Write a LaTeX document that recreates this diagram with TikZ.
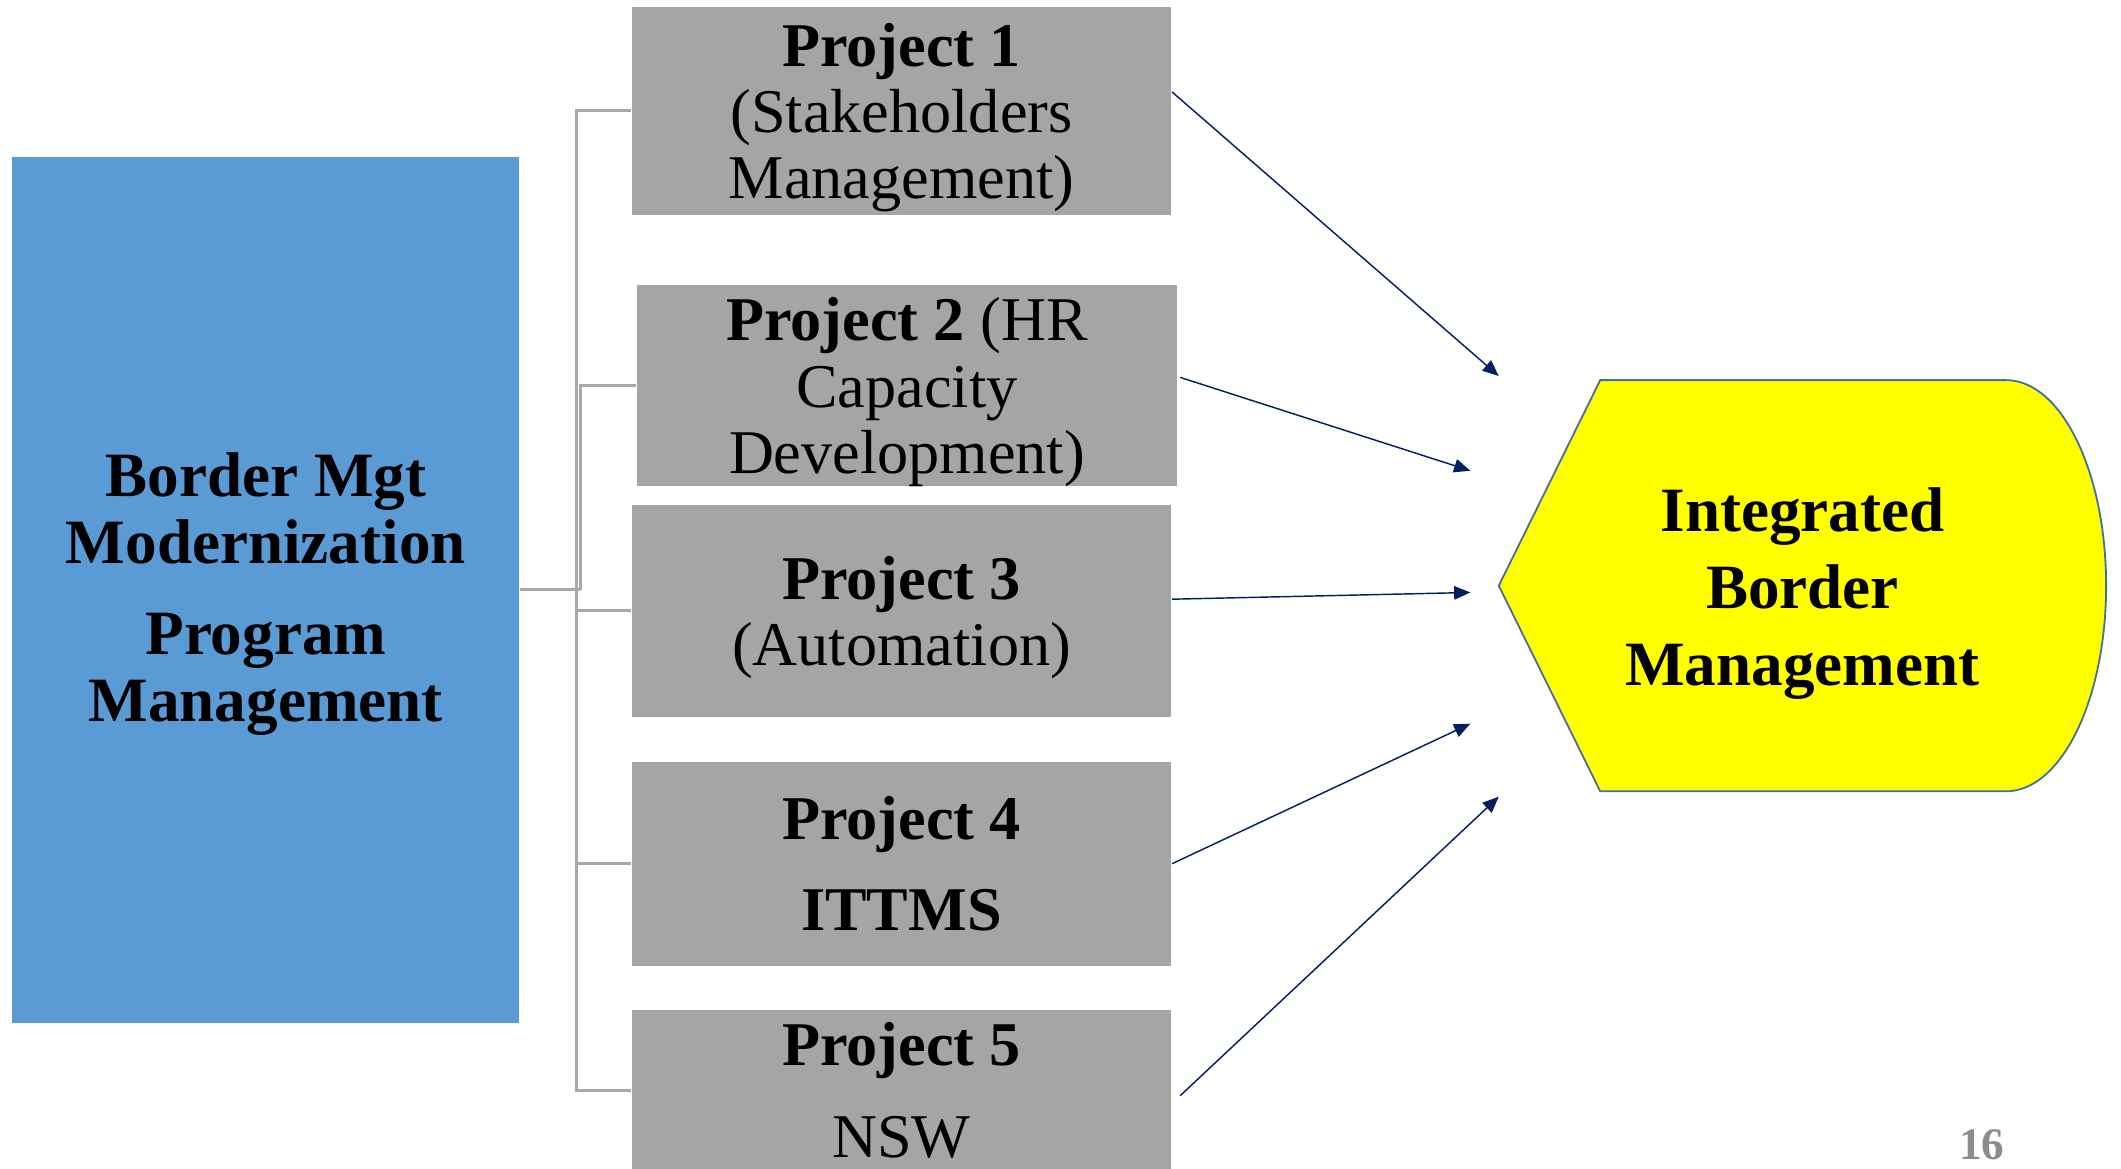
\documentclass[tikz,border=0pt]{standalone}
\usepackage{fontspec}
\setmainfont{Liberation Serif}
\usetikzlibrary{arrows.meta}

\definecolor{pmblue}{RGB}{91,155,213}
\definecolor{projgray}{RGB}{165,165,165}
\definecolor{linkgray}{RGB}{168,168,168}
\definecolor{navy}{RGB}{0,32,96}
\definecolor{ibmfill}{RGB}{255,255,0}
\definecolor{ibmedge}{RGB}{65,113,156}
\definecolor{pagenum}{RGB}{140,140,140}

\tikzset{every picture/.style={line width=0.75pt}}
\tikzset{
  projbox/.style={fill=projgray, inner sep=0pt, minimum width=299.25pt, align=center,
    font=\fontsize{34.5}{36.75}\selectfont},
  bracket/.style={draw=linkgray, line width=1.6pt},
  feed/.style={draw=navy, line width=0.8pt, -{Triangle[length=9pt,width=7.5pt]}},
}

\begin{document}
\begin{tikzpicture}[x=0.75pt,y=0.75pt,yscale=-1,xscale=1]
\path[use as bounding box, fill=white] (0,0) rectangle (1568,864);

% program box on the left
\node[fill=pmblue, inner sep=0pt, minimum width=281.25pt, minimum height=480pt, align=center,
  text depth=3pt, font=\bfseries\fontsize{35}{36.75}\selectfont] (prog) at (196.5,436)
  {Border Mgt\\Modernization\\[14pt]Program\\Management};

% the five projects
\node[projbox, text depth=0pt, minimum height=115.5pt] (p1) at (666.5,82) {\textbf{Project 1}\\(Stakeholders\\Management)};
\node[projbox, text depth=0pt, minimum height=111pt] (p2) at (670.5,285) {\textbf{Project 2} (HR\\Capacity\\Development)};
\node[projbox, text depth=0pt, minimum height=117.75pt] (p3) at (666.5,451.5) {\textbf{Project 3}\\(Automation)};
\node[projbox, minimum height=113.25pt] (p4) at (666.5,638.5) {\textbf{Project 4}\\[13.5pt]\textbf{ITTMS}};
\node[projbox, minimum height=88.5pt] (p5) at (666.5,806) {\textbf{Project 5}\\[14pt]NSW};

% elbow links program -> projects
\coordinate (hub) at (426,436);
\coordinate (hubb) at (429,436);
\draw[bracket] (prog.east) -- (hubb);
\draw[bracket] (hub) |- (p1.west);
\draw[bracket] (hubb) |- (p2.west);
\draw[bracket] (hub) |- (p3.west);
\draw[bracket] (hub) |- (p4.west);
\draw[bracket] (hub) |- (p5.west);

% target shape
\draw[fill=ibmfill, draw=ibmedge, line width=1pt] (1108,433) -- (1183,281) -- (1483,281)
  .. controls (1523.9,281) and (1557,349.1) .. (1557,433)
  .. controls (1557,516.9) and (1523.9,585) .. (1483,585) -- (1183,585) -- cycle;
\node[align=center, inner sep=0pt, font=\bfseries\fontsize{35}{42.75}\selectfont] (ibm) at (1332.5,439)
  {Integrated\\Border\\Management};

% arrows into the target
\coordinate (t1) at (1108,278);
\coordinate (t2) at (1087,348);
\coordinate (t3) at (1087,438);
\coordinate (t4) at (1087,535);
\coordinate (t5) at (1108,589);
\draw[feed] ([yshift=-10.5pt]p1.east) -- (t1);
\draw[feed] ([xshift=1.5pt,yshift=-4.5pt]p2.east) -- (t2);
\draw[feed] ([yshift=-6.4pt]p3.east) -- (t3);
\draw[feed] (p4.east) -- (t4);
\draw[feed] ([xshift=4.5pt,yshift=3pt]p5.east) -- (t5);

% page number
\node[anchor=base, inner sep=0pt, text=pagenum, font=\bfseries\fontsize{25}{30}\selectfont] (pgno) at (1465,857) {16};

\end{tikzpicture}
\end{document}
